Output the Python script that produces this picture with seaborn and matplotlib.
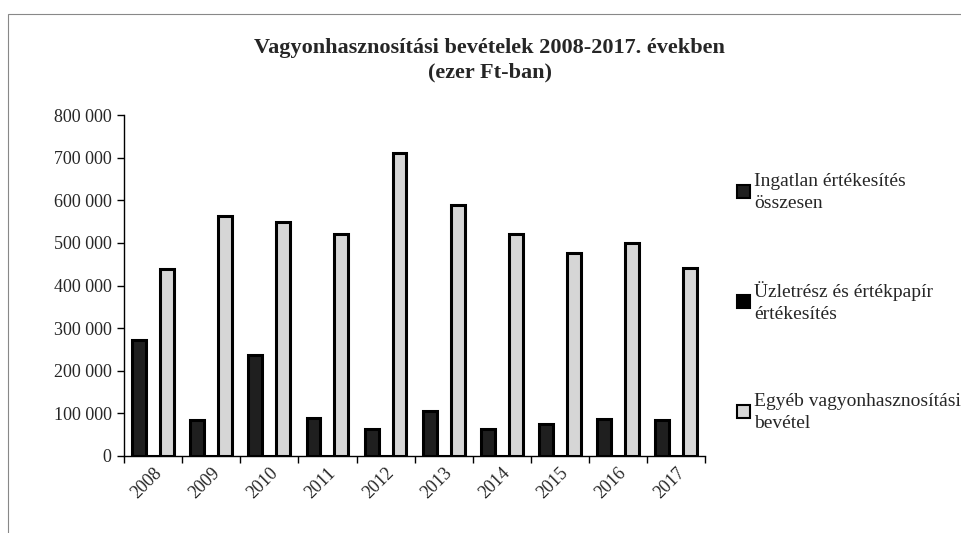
import pandas as pd
import seaborn as sns
import matplotlib.pyplot as plt
from matplotlib.patches import Patch, Rectangle
from matplotlib.ticker import FuncFormatter, FixedLocator

# adatok (ezer Ft)
evek = ["2008", "2009", "2010", "2011", "2012", "2013", "2014", "2015", "2016", "2017"]
ingatlan = [272000, 84000, 236000, 88000, 63000, 105000, 63000, 75000, 87000, 84000]
uzletresz = [0, 0, 0, 0, 0, 0, 0, 0, 0, 0]
egyeb = [438000, 562000, 548000, 521000, 711000, 590000, 522000, 476000, 499000, 441000]

sorozatok = ["Ingatlan értékesítés\nösszesen",
             "Üzletrész és értékpapír\nértékesítés",
             "Egyéb vagyonhasznosítási\nbevétel"]
szinek = ["#1f1f1f", "#000000", "#d6d6d6"]

df = pd.DataFrame({
    "Év": evek * 3,
    "Sorozat": [sorozatok[0]] * 10 + [sorozatok[1]] * 10 + [sorozatok[2]] * 10,
    "Érték": ingatlan + uzletresz + egyeb,
})

sns.set_theme(style="white")
plt.rcParams["font.family"] = ["Liberation Serif", "DejaVu Serif"]

fig = plt.figure(figsize=(9.62, 5.33), dpi=100)
ax = fig.add_axes([0.129, 0.1445, 0.604, 0.6396])

sns.barplot(data=df, x="Év", y="Érték", hue="Sorozat", palette=szinek,
            width=0.72, gap=0, edgecolor="black", linewidth=2.2,
            legend=False, ax=ax)

ax.set_ylim(0, 800000)
ax.set_xlim(-0.5, 9.5)
ax.yaxis.set_major_locator(FixedLocator(range(0, 800001, 100000)))
ax.yaxis.set_major_formatter(FuncFormatter(lambda v, p: f"{int(v):,}".replace(",", " ")))
ax.tick_params(axis="y", length=5, width=1, color="black", direction="out",
               labelsize=13, left=True, pad=4)
ax.tick_params(axis="x", which="major", length=0, labelsize=13, pad=6)
ax.set_xticks([i + 0.5 for i in range(-1, 10)], minor=True)
ax.tick_params(axis="x", which="minor", length=5, width=1, color="black",
               direction="out", bottom=True)
for lab in ax.get_xticklabels():
    lab.set_rotation(45)
    lab.set_ha("right")
    lab.set_rotation_mode("anchor")

for s in ["top", "right"]:
    ax.spines[s].set_visible(False)
for s in ["left", "bottom"]:
    ax.spines[s].set_color("black")
    ax.spines[s].set_linewidth(1)
ax.set_xlabel("")
ax.set_ylabel("")

fig.text(0.509, 0.887, "Vagyonhasznosítási bevételek 2008-2017. években\n(ezer Ft-ban)",
         ha="center", va="center", fontsize=16, fontweight="bold", linespacing=1.3)

kezelok = [Patch(facecolor=c, edgecolor="black", linewidth=1.5) for c in szinek]
leg = fig.legend(kezelok, sorozatok, loc="upper left", bbox_to_anchor=(0.758, 0.69),
                 frameon=False, fontsize=14, handlelength=0.65, handleheight=0.65,
                 handletextpad=0.25, labelspacing=3.6, borderaxespad=0)
for t in leg.get_texts():
    t.set_linespacing(1.35)

# külső keret
fig.patches.append(Rectangle((0.008, -0.05), 1.05, 1.024, transform=fig.transFigure,
                             fill=False, edgecolor="#888888", linewidth=0.8))

fig.savefig("out.png", dpi=100)
